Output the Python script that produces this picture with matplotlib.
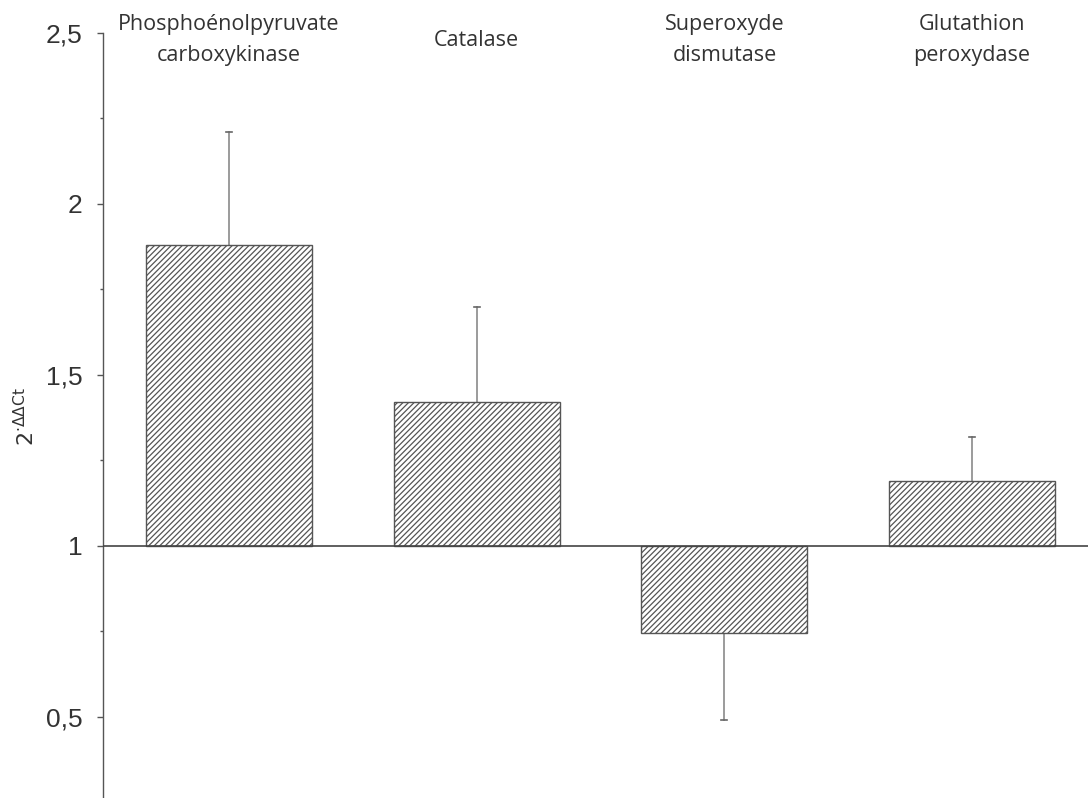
import matplotlib
matplotlib.use("Agg")
import matplotlib.pyplot as plt
from matplotlib.ticker import MultipleLocator, FixedLocator

genes = ["Phosphoénolpyruvate\ncarboxykinase", "Catalase", "Superoxyde\ndismutase", "Glutathion\nperoxydase"]
fold_change = [1.88, 1.42, 0.745, 1.19]
error_ends = [2.21, 1.70, 0.49, 1.32]
yticks = [0.5, 1, 1.5, 2, 2.5]
ytick_labels = ["0,5", "1", "1,5", "2", "2,5"]

plt.rcParams["hatch.linewidth"] = 0.9
plt.rcParams["hatch.color"] = "#444444"

fig = plt.figure(figsize=(10.88, 7.98), dpi=100)
ax = fig.add_axes([103 / 1088, 0.0, 1 - 103 / 1088, (798 - 33) / 798])

x = list(range(len(genes)))
heights = [v - 1 for v in fold_change]
ax.bar(x, heights, bottom=1, width=0.67, facecolor="white",
       edgecolor="#555555", linewidth=1.0, hatch="//////", zorder=2)

# one-sided error bars, pointing away from the baseline
for xi, v, e in zip(x, fold_change, error_ends):
    ax.plot([xi, xi], [v, e], color="#8a8a8a", linewidth=1.2, zorder=1)
    ax.plot([xi - 0.012, xi + 0.012], [e, e], color="#666666", linewidth=1.2, zorder=1)

ax.axhline(1, color="#444444", linewidth=1.2, zorder=3)

ax.set_xlim(-0.509, 3.468)
ax.set_ylim(0.263, 2.5)

for spine in ["top", "right", "bottom"]:
    ax.spines[spine].set_visible(False)
ax.spines["left"].set_color("#555555")
ax.spines["left"].set_linewidth(1.0)

ax.set_xticks([])
ax.yaxis.set_major_locator(FixedLocator(yticks))
ax.set_yticklabels(ytick_labels, fontsize=19, color="#333333", family="Liberation Sans")
ax.yaxis.set_minor_locator(MultipleLocator(0.25))
ax.tick_params(axis="y", which="major", length=4, width=1, color="#555555", pad=11)
ax.tick_params(axis="y", which="minor", length=2, width=1, color="#555555")

# gene names centred in a band above the plot
for xi, name in zip(x, genes):
    ax.text(xi, 2.479, name, ha="center", va="center", fontsize=15.5,
            family="Open Sans", color="#333333", linespacing=1.65,
            clip_on=False)

fig.text(26 / 1088, 1 - 416 / 798, r"$2^{\cdot\Delta\Delta \mathrm{Ct}}$", rotation=90,
         ha="center", va="center", fontsize=16, color="#333333")

fig.savefig("out.png", dpi=100, facecolor="white")
